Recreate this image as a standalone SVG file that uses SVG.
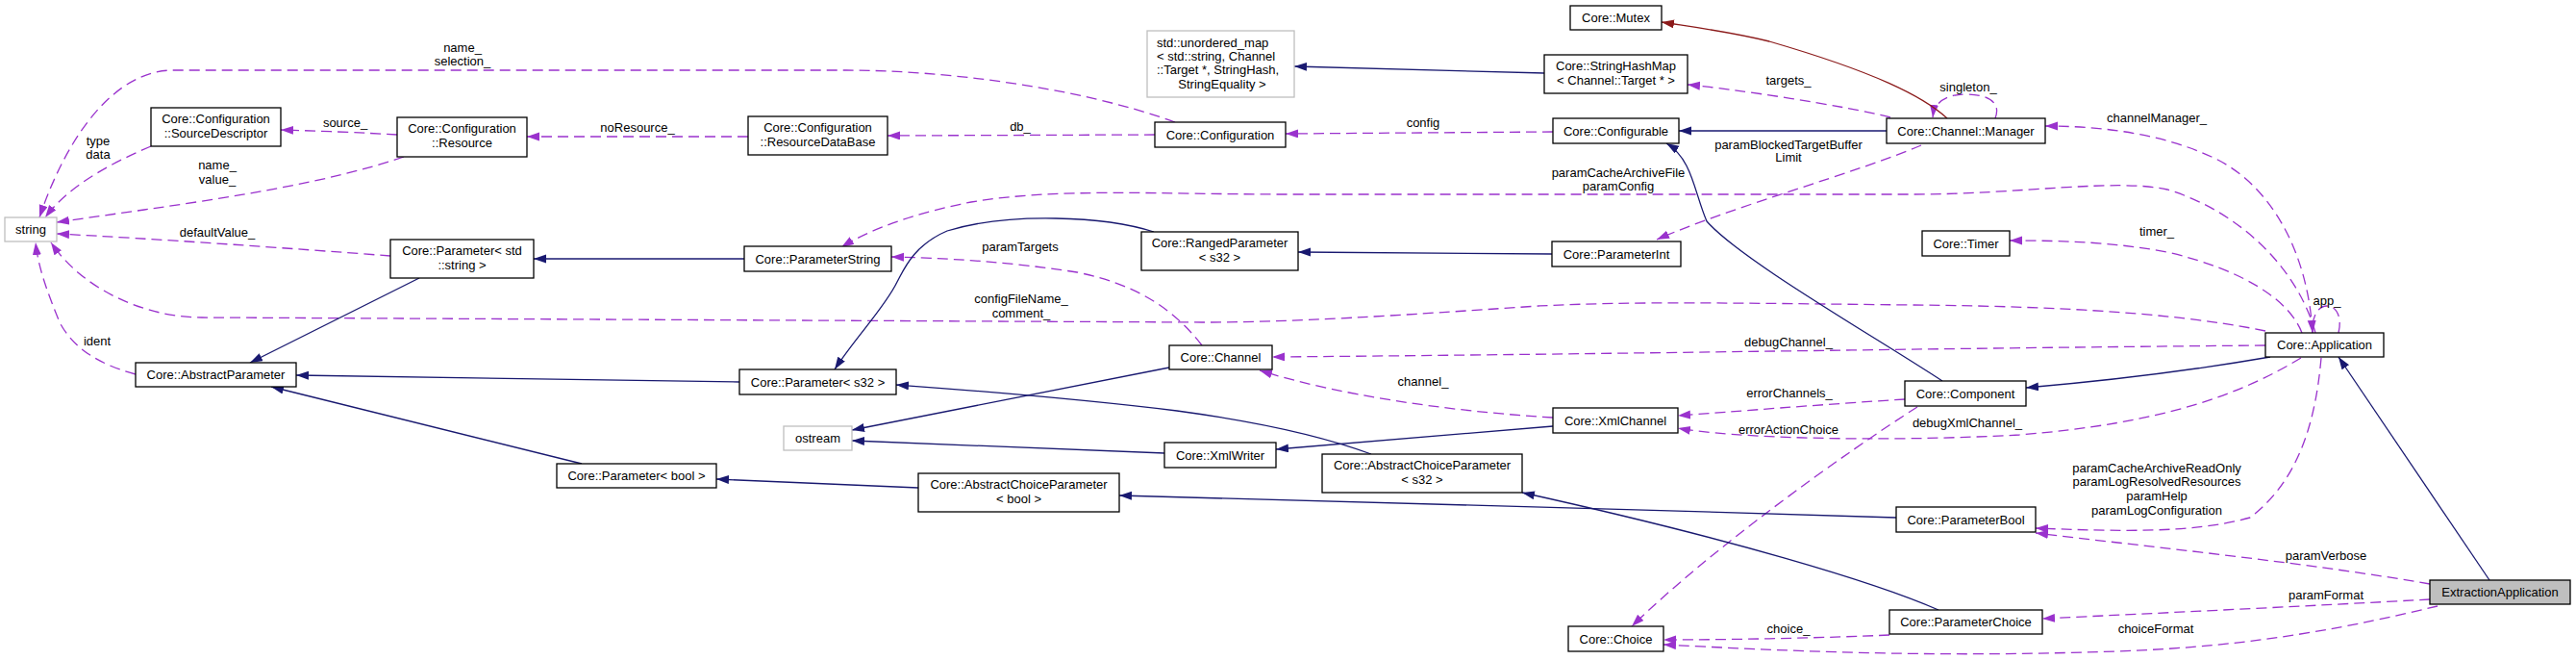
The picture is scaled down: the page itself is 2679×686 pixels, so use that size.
<svg xmlns="http://www.w3.org/2000/svg" width="2679" height="686" viewBox="0 0 2679 686">
<style>
text{font-family:"Liberation Sans",Arial,sans-serif;font-size:13px;fill:#000;text-anchor:middle}
text.l{text-anchor:start}
.n rect{fill:#fff;stroke:#000;stroke-width:1.3}
.g rect{fill:#fff;stroke:#bfbfbf;stroke-width:1.3}
.x rect{fill:#bfbfbf;stroke:#000;stroke-width:1.3}
.u{fill:none;stroke:#9a32cd;stroke-width:1.3;stroke-dasharray:11,6;marker-end:url(#ap)}
.i{fill:none;stroke:#191970;stroke-width:1.3;marker-end:url(#an)}
.r{fill:none;stroke:#8b1a1a;stroke-width:1.3;marker-end:url(#ar)}
</style>
<defs>
<marker id="ap" markerUnits="userSpaceOnUse" markerWidth="14" markerHeight="10" refX="13" refY="4.5" orient="auto"><path d="M0,0 L13,4.5 L0,9 z" fill="#9a32cd"/></marker>
<marker id="an" markerUnits="userSpaceOnUse" markerWidth="14" markerHeight="10" refX="13" refY="4.5" orient="auto"><path d="M0,0 L13,4.5 L0,9 z" fill="#191970"/></marker>
<marker id="ar" markerUnits="userSpaceOnUse" markerWidth="14" markerHeight="10" refX="13" refY="4.5" orient="auto"><path d="M0,0 L13,4.5 L0,9 z" fill="#8b1a1a"/></marker>
</defs>
<rect width="2679" height="686" fill="#fff"/>
<g id="connectors">
<path class="u" d="M1222,127 C1120,90 980,73 880,73 L180,73 C120,73 70,140 41,226"/>
<text x="481" y="54">name_</text><text x="481" y="68">selection_</text>
<path class="u" d="M157,152 C110,172 70,195 47,226"/>
<text x="102" y="151">type</text><text x="102" y="165">data</text>
<path class="u" d="M413,140 C380,138 330,136 292,135"/>
<text x="359" y="132">source_</text>
<path class="u" d="M420,163 C340,190 240,205 150,218 L59,231"/>
<text x="226" y="176">name_</text><text x="226" y="191">value_</text>
<path class="u" d="M778,142 L548,142"/>
<text x="663" y="137">noResource_</text>
<path class="u" d="M1201,140 L923,141"/>
<text x="1061" y="136">db_</text>
<path class="u" d="M1615,137 L1337,139"/>
<text x="1480" y="132">config</text>
<path class="u" d="M1966,122 C1920,110 1800,92 1755,88"/>
<text x="1860" y="88">targets_</text>
<path class="u" d="M1998,151 C1930,180 1800,215 1723,249"/>
<text x="1860" y="155">paramBlockedTargetBuffer</text><text x="1860" y="168">Limit</text>
<path class="u" d="M2075,123 C2082,105 2065,98 2045,98 C2025,98 2012,105 2010,122"/>
<text x="2047" y="95">singleton_</text>
<path class="u" d="M2405,346 C2400,260 2360,190 2300,163 C2250,140 2190,131 2127,131"/>
<text x="2243" y="127">channelManager_</text>
<path class="u" d="M2408,346 C2390,280 2330,220 2254,197 C2200,185 2100,202 1990,202 L1340,202 C1200,202 1100,195 1010,210 C960,220 910,235 875,257"/>
<text x="1683" y="184">paramCacheArchiveFile</text><text x="1683" y="198">paramConfig</text>
<path class="u" d="M2394,346 C2380,310 2330,280 2254,262 C2200,252 2150,250 2090,250"/>
<text x="2243" y="245">timer_</text>
<path class="u" d="M2432,346 C2436,330 2430,318 2420,318 C2410,318 2404,330 2405,346"/>
<text x="2420" y="317">app_</text>
<path class="u" d="M2356,344 C2250,322 2100,318 1990,317 C1800,315 1700,313 1600,318 C1450,328 1350,335 1250,335 L210,330 C150,330 85,300 53,252"/>
<text x="1062" y="315">configFileName_</text><text x="1062" y="330">comment_</text>
<path class="u" d="M141,389 C100,378 75,360 62,335 C50,305 40,280 37,252"/>
<text x="101" y="359">ident</text>
<path class="u" d="M406,266 C300,258 160,248 59,243"/>
<text x="226" y="246">defaultValue_</text>
<path class="u" d="M1250,359 C1220,320 1180,295 1120,283 C1050,272 980,268 927,267"/>
<text x="1061" y="261">paramTargets</text>
<path class="u" d="M2356,359 C2000,362 1700,368 1323,371"/>
<text x="1860" y="360">debugChannel_</text>
<path class="u" d="M1615,434 C1500,427 1390,410 1310,385"/>
<text x="1480" y="401">channel_</text>
<path class="u" d="M1981,415 C1900,420 1800,428 1745,432"/>
<text x="1861" y="413">errorChannels_</text>
<path class="u" d="M2393,372 C2330,410 2250,440 2100,452 C1950,460 1800,455 1745,445"/>
<text x="2046" y="444">debugXmlChannel_</text>
<path class="u" d="M1994,423 C1920,470 1780,570 1697,651"/>
<text x="1860" y="451">errorActionChoice</text>
<path class="u" d="M2414,372 C2408,440 2390,500 2340,538 C2280,555 2200,552 2117,549"/>
<text x="2243" y="491">paramCacheArchiveReadOnly</text><text x="2243" y="505">paramLogResolvedResources</text><text x="2243" y="520">paramHelp</text><text x="2243" y="535">paramLogConfiguration</text>
<path class="u" d="M2527,607 C2400,585 2250,570 2117,554"/>
<text x="2419" y="582">paramVerbose</text>
<path class="u" d="M2527,623 C2400,630 2250,637 2124,643"/>
<text x="2419" y="623">paramFormat</text>
<path class="u" d="M2535,630 C2450,650 2350,672 2200,677 C2000,684 1850,676 1730,670"/>
<text x="2242" y="658">choiceFormat</text>
<path class="u" d="M1965,660 C1900,663 1800,665 1730,665"/>
<text x="1860" y="658">choice_</text>
<path class="i" d="M1606,76 L1346,69"/>
<path class="i" d="M1962,136 L1746,136"/>
<path class="r" d="M2025,123 C2000,100 1950,75 1840,43 C1800,33 1760,28 1728,23"/>
<path class="i" d="M436,289 L260,377"/>
<path class="i" d="M774,269 L555,269"/>
<path class="i" d="M1200,241 C1150,225 1050,220 985,240 C950,255 940,280 933,293 C920,320 890,350 868,384"/>
<path class="i" d="M1614,264 L1350,262"/>
<path class="i" d="M2020,396 C1950,350 1810,270 1775,230 C1762,200 1760,165 1733,149"/>
<path class="i" d="M2361,371 C2280,385 2200,395 2107,403"/>
<path class="i" d="M769,397 L308,390"/>
<path class="i" d="M605,482 L282,402"/>
<path class="i" d="M1216,382 L886,447"/>
<path class="i" d="M1211,471 L886,458"/>
<path class="i" d="M1615,443 L1327,467"/>
<path class="i" d="M1426,472 C1380,455 1320,440 1224,427 C1100,412 1000,405 932,400"/>
<path class="i" d="M955,507 L745,498"/>
<path class="i" d="M1972,538 C1700,530 1400,520 1164,515"/>
<path class="i" d="M2016,634 C1950,605 1800,560 1583,512"/>
<path class="i" d="M2589,603 L2432,371"/>
</g>
<g id="n_string" class="g"><rect x="5" y="226" width="54" height="25"/><text x="32" y="243">string</text></g>
<g id="n_sourcedescriptor" class="n"><rect x="157" y="112" width="135" height="40"/><text x="224.5" y="128">Core::Configuration</text><text x="224.5" y="143">::SourceDescriptor</text></g>
<g id="n_resource" class="n"><rect x="413" y="122" width="135" height="41"/><text x="480.5" y="138">Core::Configuration</text><text x="480.5" y="153">::Resource</text></g>
<g id="n_resourcedatabase" class="n"><rect x="778" y="121" width="145" height="40"/><text x="850.5" y="137">Core::Configuration</text><text x="850.5" y="152">::ResourceDataBase</text></g>
<g id="n_configuration" class="n"><rect x="1201" y="127" width="136" height="26"/><text x="1269" y="144.5">Core::Configuration</text></g>
<g id="n_unordered_map" class="g"><rect x="1193" y="32" width="153" height="69"/><text class="l" x="1203" y="48.5">std::unordered_map</text><text class="l" x="1203" y="63">&lt; std::string, Channel</text><text class="l" x="1203" y="77">::Target *, StringHash,</text><text x="1271" y="92">StringEquality &gt;</text></g>
<g id="n_mutex" class="n"><rect x="1633" y="6" width="95" height="25"/><text x="1680.5" y="23">Core::Mutex</text></g>
<g id="n_stringhashmap" class="n"><rect x="1606" y="57" width="149" height="40"/><text x="1680.5" y="73">Core::StringHashMap</text><text x="1680.5" y="88">&lt; Channel::Target * &gt;</text></g>
<g id="n_configurable" class="n"><rect x="1615" y="123" width="131" height="26"/><text x="1680.5" y="140.5">Core::Configurable</text></g>
<g id="n_manager" class="n"><rect x="1962" y="123" width="165" height="26"/><text x="2044.5" y="140.5">Core::Channel::Manager</text></g>
<g id="n_param_string" class="n"><rect x="406" y="249" width="149" height="40"/><text x="480.5" y="265">Core::Parameter&lt; std</text><text x="480.5" y="280">::string &gt;</text></g>
<g id="n_parameterstring" class="n"><rect x="774" y="256" width="153" height="26"/><text x="850.5" y="273.5">Core::ParameterString</text></g>
<g id="n_rangedparameter" class="n"><rect x="1187" y="241" width="163" height="40"/><text x="1268.5" y="257">Core::RangedParameter</text><text x="1268.5" y="272">&lt; s32 &gt;</text></g>
<g id="n_parameterint" class="n"><rect x="1614" y="251" width="134" height="26"/><text x="1681" y="268.5">Core::ParameterInt</text></g>
<g id="n_timer" class="n"><rect x="1999" y="240" width="91" height="26"/><text x="2044.5" y="257.5">Core::Timer</text></g>
<g id="n_application" class="n"><rect x="2356" y="346" width="123" height="25"/><text x="2417.5" y="363">Core::Application</text></g>
<g id="n_abstractparameter" class="n"><rect x="141" y="377" width="167" height="25"/><text x="224.5" y="394">Core::AbstractParameter</text></g>
<g id="n_param_s32" class="n"><rect x="769" y="384" width="163" height="26"/><text x="850.5" y="401.5">Core::Parameter&lt; s32 &gt;</text></g>
<g id="n_channel" class="n"><rect x="1216" y="359" width="107" height="25"/><text x="1269.5" y="376">Core::Channel</text></g>
<g id="n_xmlchannel" class="n"><rect x="1615" y="424" width="130" height="26"/><text x="1680" y="441.5">Core::XmlChannel</text></g>
<g id="n_component" class="n"><rect x="1981" y="396" width="126" height="26"/><text x="2044" y="413.5">Core::Component</text></g>
<g id="n_ostream" class="g"><rect x="815" y="443" width="71" height="25"/><text x="850.5" y="460">ostream</text></g>
<g id="n_xmlwriter" class="n"><rect x="1211" y="460" width="116" height="26"/><text x="1269" y="477.5">Core::XmlWriter</text></g>
<g id="n_param_bool" class="n"><rect x="579" y="482" width="166" height="25"/><text x="662" y="499">Core::Parameter&lt; bool &gt;</text></g>
<g id="n_acp_bool" class="n"><rect x="955" y="492" width="209" height="40"/><text x="1059.5" y="508">Core::AbstractChoiceParameter</text><text x="1059.5" y="523">&lt; bool &gt;</text></g>
<g id="n_acp_s32" class="n"><rect x="1375" y="472" width="208" height="40"/><text x="1479" y="488">Core::AbstractChoiceParameter</text><text x="1479" y="503">&lt; s32 &gt;</text></g>
<g id="n_parameterbool" class="n"><rect x="1972" y="527" width="145" height="26"/><text x="2044.5" y="544.5">Core::ParameterBool</text></g>
<g id="n_choice" class="n"><rect x="1631" y="651" width="99" height="26"/><text x="1680.5" y="668.5">Core::Choice</text></g>
<g id="n_parameterchoice" class="n"><rect x="1965" y="634" width="159" height="25"/><text x="2044.5" y="651">Core::ParameterChoice</text></g>
<g id="n_extractionapplication" class="x"><rect x="2527" y="603" width="146" height="25"/><text x="2600" y="620">ExtractionApplication</text></g>
</svg>
